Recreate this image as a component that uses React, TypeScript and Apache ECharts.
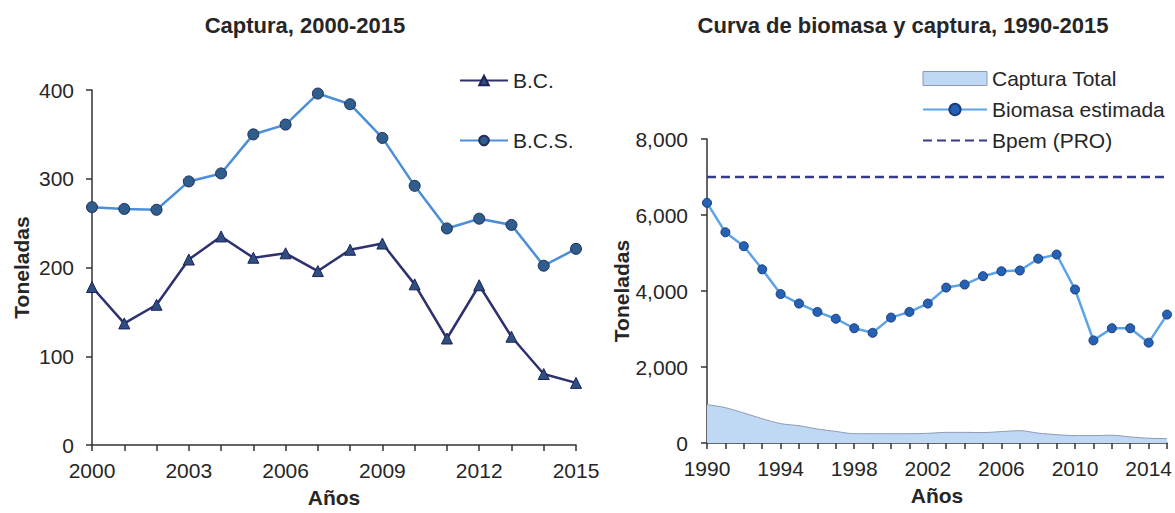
import React, { useEffect, useRef } from "react";
import * as echarts from "echarts";

const yearsLeft = ["2000","2001","2002","2003","2004","2005","2006","2007","2008","2009","2010","2011","2012","2013","2014","2015"];
const bc = [178, 137, 158, 209, 235, 211, 216, 196, 220, 227, 181, 120, 180, 122, 80, 70];
const bcs = [268, 266, 265, 297, 306, 350, 361, 396, 384, 346, 292, 244, 255, 248, 202, 221];

const yearsRight = ["1990","1991","1992","1993","1994","1995","1996","1997","1998","1999","2000","2001","2002","2003","2004","2005","2006","2007","2008","2009","2010","2011","2012","2013","2014","2015"];
const capturaTotal = [1010, 930, 790, 640, 510, 455, 370, 305, 245, 245, 245, 245, 255, 280, 280, 275, 300, 325, 260, 220, 195, 195, 205, 160, 125, 115];
const biomasa = [6320, 5545, 5180, 4570, 3920, 3670, 3450, 3270, 3020, 2900, 3300, 3450, 3670, 4090, 4170, 4390, 4520, 4540, 4850, 4960, 4040, 2700, 3020, 3020, 2640, 3380];
const bpem = yearsRight.map(() => 7000);

const FONT = "'Liberation Sans', Arial, sans-serif";
const TXT = "#262626";

export default function App() {
  const ref = useRef<HTMLDivElement>(null);
  useEffect(() => {
    document.body.style.margin = "0";
    const chart = echarts.init(ref.current!, null, { renderer: "svg" });
    const axisLine = { show: true, lineStyle: { color: "#333", width: 1.5 } };
    const axisTick = { show: true, length: 6, lineStyle: { color: "#333", width: 1.5 } };
    const label = { color: TXT, fontSize: 21, fontFamily: FONT };
    const nameStyle = { color: TXT, fontSize: 21, fontWeight: "bold" as const, fontFamily: FONT };
    chart.setOption({
      animation: false,
      textStyle: { fontFamily: FONT },
      graphic: [
        { type: "text", x: 305, y: 25, style: { text: "Captura, 2000-2015", fill: TXT, font: `bold 22px ${FONT}`, textAlign: "center", textVerticalAlign: "middle" } },
        { type: "text", x: 903, y: 25, style: { text: "Curva de biomasa y captura, 1990-2015", fill: TXT, font: `bold 22px ${FONT}`, textAlign: "center", textVerticalAlign: "middle" } },
      ],
      legend: [
        {
          orient: "vertical", left: 459, top: 70, padding: 0, itemWidth: 48, itemHeight: 12, itemGap: 39,
          textStyle: { color: TXT, fontSize: 21, fontFamily: FONT },
          data: ["B.C.", "B.C.S."],
        },
        {
          orient: "vertical", left: 922, top: 68, padding: 0, itemWidth: 64, itemHeight: 14, itemGap: 10,
          textStyle: { color: TXT, fontSize: 21, fontFamily: FONT },
          data: [
            { name: "Captura Total", icon: "rect", itemStyle: { color: "#bfd9f5", borderColor: "#8e9ab3", borderWidth: 1 } },
            "Biomasa estimada",
            { name: "Bpem (PRO)", itemStyle: { opacity: 0 } },
          ],
        },
      ],
      grid: [
        { left: 92, top: 90, width: 484, height: 355 },
        { left: 707, top: 139, width: 462, height: 304 },
      ],
      xAxis: [
        {
          type: "category", gridIndex: 0, data: yearsLeft, boundaryGap: false,
          axisLine, axisTick: { ...axisTick, interval: 0 },
          axisLabel: { ...label, interval: 2, margin: 15 },
          name: "Años", nameLocation: "middle", nameGap: 42, nameTextStyle: nameStyle,
        },
        {
          type: "category", gridIndex: 1, data: yearsRight, boundaryGap: false,
          axisLine, axisTick: { ...axisTick, interval: 0 },
          axisLabel: { ...label, interval: 3, margin: 15 },
          name: "Años", nameLocation: "middle", nameGap: 42, nameTextStyle: nameStyle,
        },
      ],
      yAxis: [
        {
          type: "value", gridIndex: 0, min: 0, max: 400, interval: 100,
          axisLine, axisTick, splitLine: { show: false },
          axisLabel: { ...label, margin: 18 },
          name: "Toneladas", nameLocation: "middle", nameRotate: 90, nameGap: 60, nameTextStyle: nameStyle,
        },
        {
          type: "value", gridIndex: 1, min: 0, max: 8000, interval: 2000,
          axisLine, axisTick, splitLine: { show: false },
          axisLabel: { ...label, margin: 19, formatter: (v: number) => v.toLocaleString("en-US") },
          name: "Toneladas", nameLocation: "middle", nameRotate: 90, nameGap: 75, nameTextStyle: nameStyle,
        },
      ],
      series: [
        {
          name: "B.C.", type: "line", xAxisIndex: 0, yAxisIndex: 0, data: bc,
          symbol: "triangle", symbolSize: 11,
          lineStyle: { color: "#2d3170", width: 2.5 },
          itemStyle: { color: "#2d4f82", borderColor: "#1e2258", borderWidth: 1 },
        },
        {
          name: "B.C.S.", type: "line", xAxisIndex: 0, yAxisIndex: 0, data: bcs,
          symbol: "circle", symbolSize: 11,
          lineStyle: { color: "#4a8fd8", width: 2.5 },
          itemStyle: { color: "#2f5d8c", borderColor: "#1e2d5c", borderWidth: 1 },
        },
        {
          name: "Captura Total", type: "line", xAxisIndex: 1, yAxisIndex: 1, data: capturaTotal,
          showSymbol: false, symbol: "none", smooth: 0.3,
          lineStyle: { color: "#8e9ab3", width: 1 },
          areaStyle: { color: "#bfd9f5", opacity: 1 },
          itemStyle: { color: "#bfd9f5", borderColor: "#8e9ab3", borderWidth: 1 },
        },
        {
          name: "Biomasa estimada", type: "line", xAxisIndex: 1, yAxisIndex: 1, data: biomasa,
          symbol: "circle", symbolSize: 9,
          lineStyle: { color: "#5ba4e8", width: 2.5 },
          itemStyle: { color: "#2562b5", borderColor: "#1b3c7c", borderWidth: 1 },
        },
        {
          name: "Bpem (PRO)", type: "line", xAxisIndex: 1, yAxisIndex: 1, data: bpem,
          symbol: "none",
          lineStyle: { color: "#343b8c", width: 2.5, type: [9, 5] },
          itemStyle: { color: "#343b8c" },
        },
      ],
    });
    return () => chart.dispose();
  }, []);
  return <div ref={ref} style={{ width: 1175, height: 513 }} />;
}
